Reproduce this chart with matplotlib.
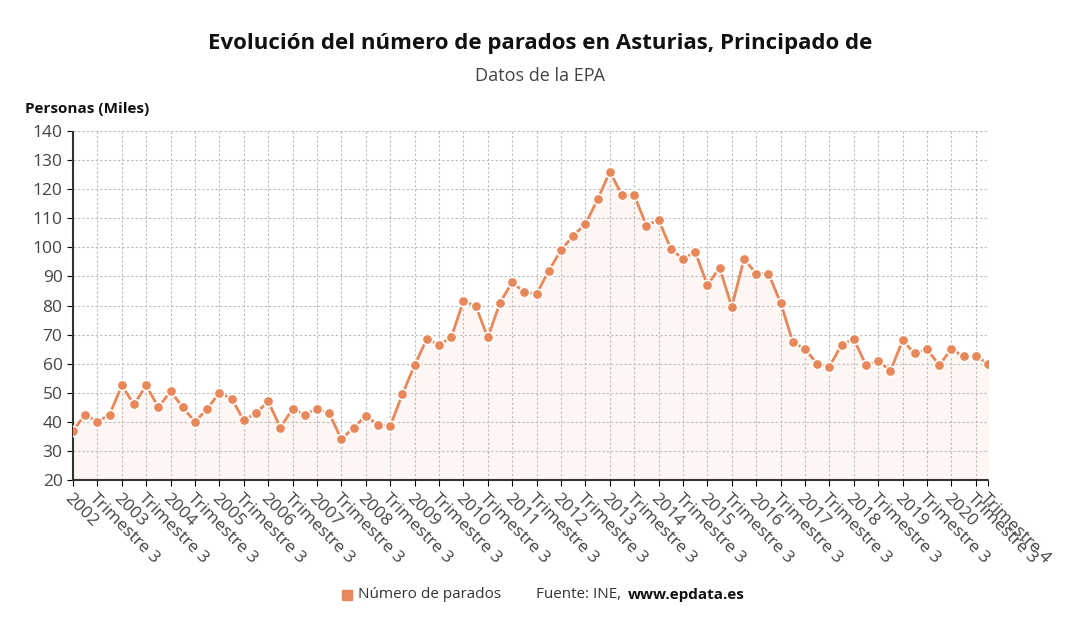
import matplotlib
matplotlib.use("Agg")
import matplotlib.pyplot as plt
import numpy as np

years = list(range(2002, 2021))
values = [37, 42.5, 40, 42.5, 52.5, 46, 52.5, 45, 50.5, 45, 40, 44.5,
          50, 48, 40.5, 43, 47, 38, 44.5, 42.5, 44.5, 43, 34, 38,
          42, 39, 38.5, 49.5, 59.5, 68.5, 66.5, 69, 81.5, 80, 69, 81,
          88, 84.5, 84, 92, 99, 104, 108, 116.5, 126, 118, 118, 107.5,
          109.5, 99.5, 96, 98.5, 87, 93, 79.5, 96, 91, 91, 81, 67.5,
          65, 60, 59, 66.5, 68.5, 59.5, 61, 57.5, 68, 63.5, 65, 59.5,
          65, 62.5, 62.5, 60]
labels = []
for y in years:
    labels += [str(y), "", "Trimestre 3", ""]
labels[-1] = "Trimestre 4"

plt.rcParams["font.family"] = "Open Sans"
color = "#E8885A"
fig = plt.figure(figsize=(10.8, 6.34), dpi=100)
ax = fig.add_axes([73/1080, 154/634, 915/1080, 349/634])
x = np.arange(len(values))
ax.fill_between(x, 20, values, color=color, alpha=0.07, linewidth=0)
ax.plot(x, values, color=color, lw=2, marker="o", ms=7.5,
        markeredgecolor="white", markeredgewidth=1.2, zorder=3)
ax.set_xlim(0, len(values)-1)
ax.set_ylim(20, 140)
ax.set_yticks(range(20, 141, 10))
ticks = [i for i, l in enumerate(labels) if l]
ax.set_xticks(ticks)
ax.set_xticklabels([labels[i] for i in ticks], rotation=-45, ha="left",
                   va="top", rotation_mode="anchor", fontsize=12.5, color="#444444")
ax.tick_params(axis="y", labelsize=12.5, labelcolor="#444444", length=4)
ax.tick_params(axis="x", length=4)
ax.grid(True, color="#bbbbbb", linestyle=(0, (2, 2)), linewidth=0.8)
for s in ["top", "right"]:
    ax.spines[s].set_visible(False)
for s in ["left", "bottom"]:
    ax.spines[s].set_color("#333333")
    ax.spines[s].set_linestyle((0, (1, 1)))
    ax.spines[s].set_linewidth(1.5)

fig.text(0.5, 1-43/634, "Evolución del número de parados en Asturias, Principado de",
         ha="center", va="center", fontsize=16, fontweight="bold", color="#111111")
fig.text(0.5, 1-76/634, "Datos de la EPA", ha="center", va="center",
         fontsize=13, color="#444444")
fig.text(25/1080, 1-109/634, "Personas (Miles)", ha="left", va="center",
         fontsize=11, fontweight="bold", color="#111111")
fig.patches.append(plt.Rectangle((342/1080, 1-600/634), 10/1080, 10/634,
                                 transform=fig.transFigure, color=color))
fig.text(358/1080, 1-595/634, "Número de parados", ha="left", va="center",
         fontsize=11, color="#333333")
fig.text(536/1080, 1-595/634, "Fuente: INE, ", ha="left", va="center",
         fontsize=11, color="#333333")
fig.text(628/1080, 1-595/634, "www.epdata.es", ha="left", va="center",
         fontsize=11, fontweight="bold", color="#111111")
fig.savefig("out.png", dpi=100, facecolor="white")
